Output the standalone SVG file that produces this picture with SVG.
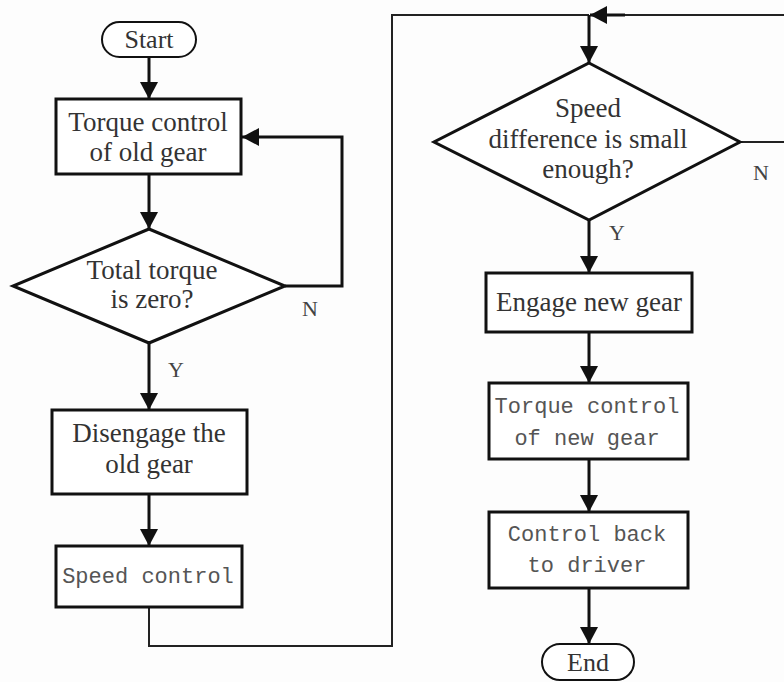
<svg xmlns="http://www.w3.org/2000/svg" width="784" height="682" viewBox="0 0 784 682">
<style>
.bg{fill:#fdfdfd}
.box{fill:#fff;stroke:#111;stroke-width:3}
.term{fill:#fff;stroke:#111;stroke-width:2}
.ln{fill:none;stroke:#111;stroke-width:3}
.thin{fill:none;stroke:#222;stroke-width:2}
.s{font-family:"Liberation Serif","Times New Roman",serif;font-size:27px;fill:#333;text-anchor:middle}
.m{font-family:"Liberation Mono","Courier New",monospace;font-size:22px;fill:#555;text-anchor:middle}
.lab{font-family:"Liberation Serif","Times New Roman",serif;font-size:22px;fill:#444}
</style>
<defs>
<marker id="ah" markerUnits="userSpaceOnUse" markerWidth="18" markerHeight="18" refX="17" refY="9" orient="auto">
<path d="M0,0 L17,9 L0,18 Z" fill="#111"/>
</marker>
</defs>
<rect class="bg" x="0" y="0" width="784" height="682"/>
<g id="connectors">
<path class="ln" d="M149,57 V99" marker-end="url(#ah)"/>
<path class="ln" d="M149,174 V229" marker-end="url(#ah)"/>
<path class="ln" d="M285,286 H342 V137 H242" marker-end="url(#ah)"/>
<path class="ln" d="M149,343 V410" marker-end="url(#ah)"/>
<path class="ln" d="M149,494 V546" marker-end="url(#ah)"/>
<path class="thin" d="M149,607 V646 H392 V15 H589"/>
<path class="ln" d="M589,15 V63" marker-end="url(#ah)"/>
<path class="thin" d="M740,142 H790 V15 H620"/>
<path class="ln" d="M625,15 H590" marker-end="url(#ah)"/>
<path class="ln" d="M589,220 V273" marker-end="url(#ah)"/>
<path class="ln" d="M589,332 V383" marker-end="url(#ah)"/>
<path class="ln" d="M589,459 V512" marker-end="url(#ah)"/>
<path class="ln" d="M589,588 V644" marker-end="url(#ah)"/>
<text class="lab" x="302" y="316">N</text>
<text class="lab" x="168" y="377">Y</text>
<text class="lab" x="753" y="180">N</text>
<text class="lab" x="609" y="240">Y</text>
</g>
<g id="start">
<rect class="term" x="102" y="22" width="94" height="35" rx="17.5"/>
<text class="s" x="149" y="48" style="font-size:26px">Start</text>
</g>
<g id="torque-old">
<rect class="box" x="56" y="99" width="185" height="75"/>
<text class="s" x="148" y="131">Torque control</text>
<text class="s" x="148" y="161">of old gear</text>
</g>
<g id="total-zero">
<polygon class="box" points="149,229 285,286 149,343 13,286"/>
<text class="s" x="152" y="279">Total torque</text>
<text class="s" x="152" y="308">is zero?</text>
</g>
<g id="disengage">
<rect class="box" x="52" y="410" width="195" height="84"/>
<text class="s" x="149" y="442">Disengage the</text>
<text class="s" x="149" y="473">old gear</text>
</g>
<g id="speed-control">
<rect class="box" x="56" y="546" width="186" height="61"/>
<text class="m" x="148" y="583">Speed control</text>
</g>
<g id="speed-diff">
<polygon class="box" points="589,63 740,142 589,220 434,142"/>
<text class="s" x="588" y="117">Speed</text>
<text class="s" x="588" y="148">difference is small</text>
<text class="s" x="588" y="178">enough?</text>
</g>
<g id="engage">
<rect class="box" x="486" y="273" width="206" height="59"/>
<text class="s" x="589" y="311">Engage new gear</text>
</g>
<g id="torque-new">
<rect class="box" x="489" y="383" width="199" height="76"/>
<text class="m" x="587" y="413">Torque control</text>
<text class="m" x="587" y="445">of new gear</text>
</g>
<g id="control-back">
<rect class="box" x="489" y="512" width="199" height="76"/>
<text class="m" x="587" y="541">Control back</text>
<text class="m" x="587" y="572">to driver</text>
</g>
<g id="end">
<rect class="term" x="542" y="644" width="92" height="36" rx="18"/>
<text class="s" x="588" y="671" style="font-size:26px">End</text>
</g>
</svg>
